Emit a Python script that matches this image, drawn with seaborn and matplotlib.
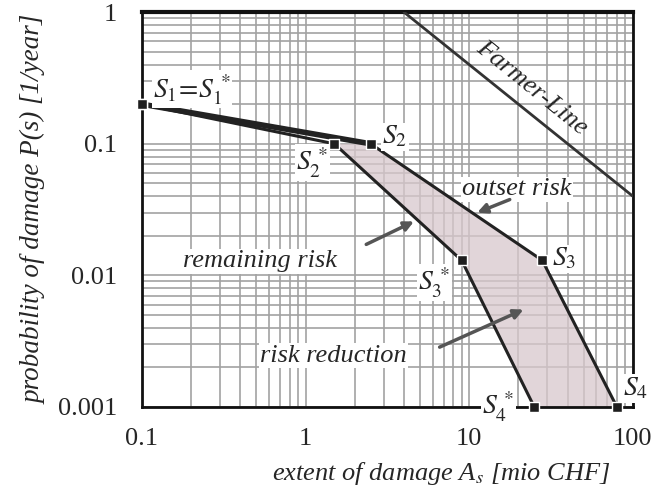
import numpy as np
import pandas as pd
import matplotlib
matplotlib.use("Agg")
import matplotlib.pyplot as plt
import seaborn as sns
from matplotlib.ticker import LogLocator, FixedLocator, FixedFormatter

# points of the two risk curves (extent in mio CHF, probability per year)
outset_x = [0.1, 2.5, 28, 80]
outset_y = [0.2, 0.1, 0.013, 0.001]
remaining_x = [0.1, 1.5, 9, 25]
remaining_y = [0.2, 0.1, 0.013, 0.001]
farmer_x = [4, 100]
farmer_y = [1, 0.04]

x_ticks = [0.1, 1, 10, 100]
x_labels = ['0.1', '1', '10', '100']
y_ticks = [0.001, 0.01, 0.1, 1]
y_labels = ['0.001', '0.01', '0.1', '1']

sns.set_style("white")
plt.rcParams['font.family'] = ['Liberation Serif', 'DejaVu Serif']
plt.rcParams['mathtext.fontset'] = 'stix'

fig = plt.figure(figsize=(6.51, 4.88), dpi=100)
ax = fig.add_axes([0.218, 0.166, 0.754, 0.809])
ax.set_xscale('log')
ax.set_yscale('log')
ax.set_xlim(0.1, 100)
ax.set_ylim(0.001, 1)

# paper-like log grid
ax.xaxis.set_minor_locator(LogLocator(base=10, subs=np.arange(2, 10)))
ax.yaxis.set_minor_locator(LogLocator(base=10, subs=np.arange(2, 10)))
ax.grid(True, which='both', color='#a2a2a2', lw=1.2, zorder=0)

# shaded risk reduction
poly_x = outset_x[1:] + remaining_x[1:][::-1]
poly_y = outset_y[1:] + remaining_y[1:][::-1]
ax.fill(poly_x, poly_y, color='#d8c8cd', alpha=0.75, lw=0, zorder=1)

df_out = pd.DataFrame({'x': outset_x, 'y': outset_y})
df_rem = pd.DataFrame({'x': remaining_x, 'y': remaining_y})
sns.lineplot(data=df_out, x='x', y='y', sort=False, estimator=None,
             color='#222222', lw=2.2, ax=ax, zorder=3)
sns.lineplot(data=df_rem, x='x', y='y', sort=False, estimator=None,
             color='#222222', lw=2.2, ax=ax, zorder=3)
# thick first segment
sns.lineplot(x=outset_x[:2], y=outset_y[:2], sort=False, estimator=None,
             color='#222222', lw=4, ax=ax, zorder=3)
sns.scatterplot(data=pd.concat([df_out, df_rem]), x='x', y='y', marker='s',
                s=55, color='#1e1e1e', edgecolor='white', linewidth=1,
                ax=ax, zorder=5, clip_on=False)
sns.lineplot(x=farmer_x, y=farmer_y, sort=False, estimator=None,
             color='#333333', lw=2, ax=ax, zorder=3)

for s in ax.spines.values():
    s.set_color('#111111')
    s.set_linewidth(2)
ax.spines['top'].set_linewidth(3)

ax.xaxis.set_major_locator(FixedLocator(x_ticks))
ax.xaxis.set_major_formatter(FixedFormatter(x_labels))
ax.yaxis.set_major_locator(FixedLocator(y_ticks))
ax.yaxis.set_major_formatter(FixedFormatter(y_labels))
ax.tick_params(which='major', direction='out', length=6, width=1.2,
               color='#999999', labelsize=19)
ax.tick_params(axis='x', pad=9)
ax.tick_params(axis='y', pad=12)
ax.tick_params(which='minor', length=0)

ax.set_xlabel(r'extent of damage A$_s$ [mio CHF]', fontsize=19,
              style='italic')
ax.xaxis.set_label_coords(0.61, -0.135)
ax.set_ylabel('probability of damage P(s) [1/year]', fontsize=19.5,
              style='italic', labelpad=8)

box = dict(facecolor='white', edgecolor='none', pad=1.0)
kw = dict(fontsize=20, bbox=box, zorder=6)
ax.text(0.117, 0.26, r'$S_1\!=\!S_1^{\,*}$', ha='left', va='center', **kw)
ax.text(1.38, 0.072, r'$S_2^{\,*}$', ha='right', va='center', **kw)
ax.text(2.95, 0.113, r'$S_2$', ha='left', va='center', **kw)
ax.text(7.7, 0.0088, r'$S_3^{\,*}$', ha='right', va='center', **kw)
ax.text(32, 0.0133, r'$S_3$', ha='left', va='center', **kw)
ax.text(19, 0.001, r'$S_4^{\,*}$', ha='right', va='center', **kw)
ax.text(87, 0.00138, r'$S_4$', ha='left', va='center', clip_on=False, **kw)
ax.text(24, 0.265, 'Farmer-Line', rotation=-39, ha='center', va='center',
        fontsize=19, style='italic', zorder=6)

tkw = dict(fontsize=19, style='italic', ha='center', va='center',
           bbox=box, zorder=6)
ax.text(19.5, 0.045, 'outset risk', **tkw)
ax.text(0.53, 0.0128, 'remaining risk', **tkw)
ax.text(1.48, 0.00245, 'risk reduction', **tkw)

arrow = dict(arrowstyle='-|>', color='#555555', lw=2.5,
             mutation_scale=14, shrinkA=0, shrinkB=0)
ax.annotate('', xy=(11.2, 0.030), xytext=(17.7, 0.0377), arrowprops=arrow,
            zorder=6)
ax.annotate('', xy=(4.6, 0.0257), xytext=(2.35, 0.0172), arrowprops=arrow,
            zorder=6)
ax.annotate('', xy=(21.5, 0.0055), xytext=(6.6, 0.00285), arrowprops=arrow,
            zorder=6)

fig.savefig('out.png', dpi=100)
